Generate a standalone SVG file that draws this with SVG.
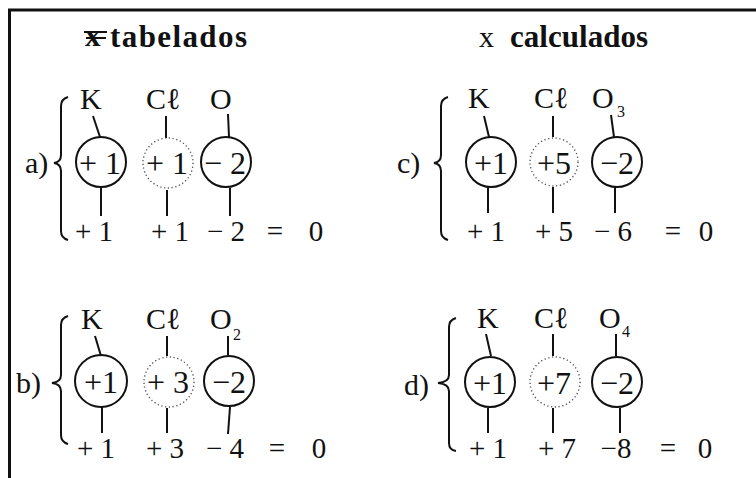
<svg xmlns="http://www.w3.org/2000/svg" width="756" height="478" viewBox="0 0 756 478">
<style>
.t{font-family:"Liberation Serif","DejaVu Serif","Times New Roman",serif;font-size:30px;fill:#111}
.m{text-anchor:middle}
.s{font-size:16px}
.b{font-size:29px}
.n{font-size:32px}
.h{font-family:"Liberation Serif","DejaVu Serif","Times New Roman",serif;font-size:31px;font-weight:bold;fill:#111}
.c{fill:none;stroke:#111;stroke-width:2}
.d{fill:none;stroke:#555;stroke-width:1.4;stroke-dasharray:1.2 2.6}
.l{stroke:#111;stroke-width:2;fill:none}
.br{fill:none;stroke:#111;stroke-width:2}
</style>
<rect width="756" height="478" fill="#fff"/>
<g id="frame">
<line x1="8" y1="10" x2="756" y2="10" stroke="#111" stroke-width="3"/>
<line x1="9.5" y1="9" x2="9.5" y2="478" stroke="#111" stroke-width="3"/>
</g>
<g id="titles">
<text class="h" x="85" y="46" font-size="42">x</text>
<line x1="84" y1="32" x2="107" y2="32" stroke="#111" stroke-width="2"/>
<line x1="86" y1="38" x2="106" y2="38" stroke="#111" stroke-width="2"/>
<text class="h" x="110" y="47" textLength="137">tabelados</text>
<text class="t" x="479" y="47" font-size="26">x</text>
<text class="h" x="510" y="47" textLength="138">calculados</text>
</g>
<g id="connectors">
<line class="l" x1="93" y1="116" x2="100" y2="137"/>
<line class="l" x1="166" y1="116" x2="166" y2="138"/>
<line class="l" x1="228" y1="114" x2="229" y2="137"/>
<line class="l" x1="101" y1="188" x2="101" y2="216"/>
<line class="l" x1="167" y1="190" x2="167" y2="216"/>
<line class="l" x1="230" y1="188" x2="230" y2="216"/>
<line class="l" x1="95" y1="336" x2="101" y2="356"/>
<line class="l" x1="167" y1="336" x2="167" y2="356"/>
<line class="l" x1="228" y1="336" x2="228" y2="355"/>
<line class="l" x1="102" y1="407" x2="102" y2="433"/>
<line class="l" x1="167" y1="408" x2="167" y2="433"/>
<line class="l" x1="230" y1="407" x2="228" y2="434"/>
<line class="l" x1="484" y1="116" x2="489" y2="137"/>
<line class="l" x1="553" y1="116" x2="553" y2="137"/>
<line class="l" x1="611" y1="115" x2="614" y2="137"/>
<line class="l" x1="488" y1="187" x2="488" y2="213"/>
<line class="l" x1="553" y1="187" x2="553" y2="213"/>
<line class="l" x1="615" y1="187" x2="615" y2="213"/>
<line class="l" x1="486" y1="334" x2="491" y2="356"/>
<line class="l" x1="553" y1="334" x2="553" y2="356"/>
<line class="l" x1="616" y1="334" x2="616" y2="356"/>
<line class="l" x1="488" y1="408" x2="488" y2="433"/>
<line class="l" x1="553" y1="408" x2="553" y2="433"/>
<line class="l" x1="620" y1="408" x2="620" y2="433"/>
</g>
<g id="panel-a">
<path class="br" d="M68,97 Q61,99 61,106 L61,155 Q61,162 54,163 Q61,164 61,171 L61,231 Q61,238 68,240"/>
<text class="t" x="25" y="173">a)</text>
<text class="t" x="80" y="109">K</text>
<text class="t" x="146" y="109">Cℓ</text>
<text class="t" x="210" y="109">O</text>
<circle class="c" cx="101" cy="162" r="25"/>
<circle class="d" cx="168" cy="163" r="25"/>
<circle class="c" cx="226" cy="162" r="25"/>
<text class="t n m" x="100" y="174">+ 1</text>
<text class="t n m" x="167" y="174">+ 1</text>
<text class="t n m" x="225" y="174">− 2</text>
<text class="t b m" x="94" y="241">+ 1</text>
<text class="t b m" x="170" y="241">+ 1</text>
<text class="t b m" x="226" y="241">− 2</text>
<text class="t b m" x="275" y="241">=</text>
<text class="t b m" x="316" y="241">0</text>
</g>
<g id="panel-b">
<path class="br" d="M68,316 Q61,318 61,325 L61,375 Q61,382 52,383 Q61,384 61,391 L61,435 Q61,442 68,444"/>
<text class="t" x="16" y="393">b)</text>
<text class="t" x="81" y="329">K</text>
<text class="t" x="146" y="329">Cℓ</text>
<text class="t" x="210" y="329">O</text>
<text class="t s" x="233" y="340">2</text>
<circle class="c" cx="101" cy="381" r="26"/>
<circle class="d" cx="169" cy="382" r="25"/>
<circle class="c" cx="229" cy="381" r="25"/>
<text class="t n m" x="101" y="393">+1</text>
<text class="t n m" x="168" y="393">+ 3</text>
<text class="t n m" x="229" y="393">−2</text>
<text class="t b m" x="96" y="458">+ 1</text>
<text class="t b m" x="165" y="458">+ 3</text>
<text class="t b m" x="225" y="458">− 4</text>
<text class="t b m" x="277" y="458">=</text>
<text class="t b m" x="319" y="458">0</text>
</g>
<g id="panel-c">
<path class="br" d="M448,97 Q441,99 441,106 L441,155 Q441,162 434,163 Q441,164 441,171 L441,231 Q441,238 448,240"/>
<text class="t" x="397" y="173">c)</text>
<text class="t" x="468" y="108">K</text>
<text class="t" x="534" y="108">Cℓ</text>
<text class="t" x="592" y="108">O</text>
<text class="t s" x="617" y="117">3</text>
<circle class="c" cx="491" cy="162" r="25"/>
<circle class="d" cx="554" cy="162" r="24"/>
<circle class="c" cx="617" cy="162" r="25"/>
<text class="t n m" x="491" y="174">+1</text>
<text class="t n m" x="554" y="174">+5</text>
<text class="t n m" x="617" y="174">−2</text>
<text class="t b m" x="486" y="241">+ 1</text>
<text class="t b m" x="554" y="241">+ 5</text>
<text class="t b m" x="613" y="241">− 6</text>
<text class="t b m" x="673" y="241">=</text>
<text class="t b m" x="706" y="241">0</text>
</g>
<g id="panel-d">
<path class="br" d="M456,318 Q449,320 449,327 L449,375 Q449,382 438,383 Q449,384 449,391 L449,443 Q449,450 456,451"/>
<text class="t" x="404" y="395">d)</text>
<text class="t" x="477" y="328">K</text>
<text class="t" x="534" y="328">Cℓ</text>
<text class="t" x="599" y="328">O</text>
<text class="t s" x="622" y="337">4</text>
<circle class="c" cx="490" cy="382" r="25"/>
<circle class="d" cx="555" cy="382" r="25"/>
<circle class="c" cx="617" cy="382" r="25"/>
<text class="t n m" x="490" y="394">+1</text>
<text class="t n m" x="554" y="394">+7</text>
<text class="t n m" x="617" y="394">−2</text>
<text class="t b m" x="488" y="458">+ 1</text>
<text class="t b m" x="557" y="458">+  7</text>
<text class="t b m" x="616" y="458">−8</text>
<text class="t b m" x="668" y="458">=</text>
<text class="t b m" x="705" y="458">0</text>
</g>
</svg>
